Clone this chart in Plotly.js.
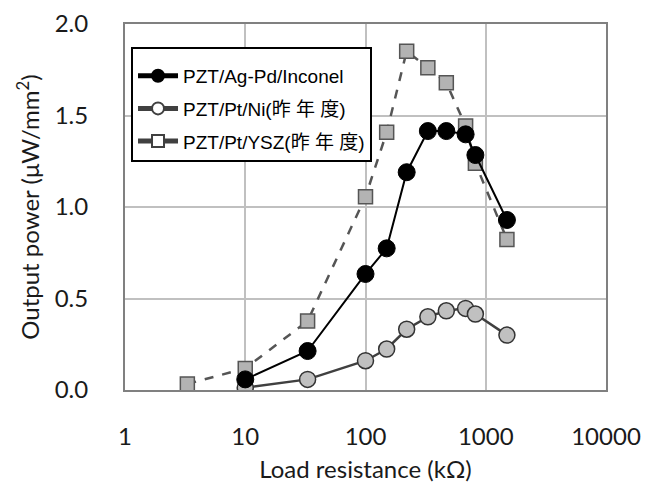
<!DOCTYPE html>
<html>
<head>
<meta charset="utf-8">
<script src="https://cdn.plot.ly/plotly-3.0.1.min.js"></script>
<style>html,body{margin:0;padding:0;background:#fff;}#chart{width:660px;height:486px;}</style>
</head>
<body>
<div id="chart"></div>
<script>
// Load resistance (kΩ)
const rAgPd = [10, 33, 100, 150, 220, 330, 470, 680, 820, 1500];
const pAgPd = [0.058, 0.213, 0.634, 0.774, 1.19, 1.415, 1.415, 1.397, 1.284, 0.929];

const rPtNi = [10, 33, 100, 150, 220, 330, 470, 680, 820, 1500];
const pPtNi = [0.013, 0.058, 0.16, 0.224, 0.332, 0.40, 0.433, 0.446, 0.415, 0.30];

const rYSZ = [3.3, 10, 33, 100, 150, 220, 330, 470, 680, 820, 1500];
const pYSZ = [0.033, 0.118, 0.377, 1.056, 1.408, 1.851, 1.761, 1.679, 1.443, 1.239, 0.823];

const names = ['PZT/Ag-Pd/Inconel', 'PZT/Pt/Ni(昨 年 度)', 'PZT/Pt/YSZ(昨 年 度)'];
const xTickVals = [1, 10, 100, 1000, 10000];
const xTickText = ['1', '10', '100', '1000', '10000'];

const axisFont = {family: 'Lato, "Noto Sans", sans-serif', size: 24, color: '#1a1a1a'};

const traces = [
  {x: rYSZ, y: pYSZ, name: names[2], mode: 'lines+markers', showlegend: false,
   line: {color: '#555555', width: 2.5, dash: 'dash'},
   marker: {symbol: 'square', size: 14, color: '#b3b3b3', line: {color: '#555555', width: 1.5}}},
  {x: rPtNi, y: pPtNi, name: names[1], mode: 'lines+markers', showlegend: false,
   line: {color: '#404040', width: 2.5},
   marker: {symbol: 'circle', size: 16, color: '#c0c0c0', line: {color: '#333333', width: 1.5}}},
  {x: rAgPd, y: pAgPd, name: names[0], mode: 'lines+markers', showlegend: false,
   line: {color: '#000000', width: 2},
   marker: {symbol: 'circle', size: 17, color: '#000000', line: {color: '#000000', width: 1}}},
  // legend entries
  {x: [null], y: [null], name: names[0], mode: 'lines+markers', legendgroup: 'a',
   line: {color: '#000000', width: 2},
   marker: {symbol: 'circle', size: 12, color: '#000000', line: {color: '#000000', width: 1}}},
  {x: [null], y: [null], name: names[1], mode: 'lines+markers', legendgroup: 'b',
   line: {color: '#404040', width: 2},
   marker: {symbol: 'circle', size: 12, color: '#ffffff', line: {color: '#404040', width: 1.5}}},
  {x: [null], y: [null], name: names[2], mode: 'lines+markers', legendgroup: 'c',
   line: {color: '#404040', width: 2},
   marker: {symbol: 'square', size: 12, color: '#ffffff', line: {color: '#404040', width: 1.5}}}
];

const layout = {
  width: 660, height: 486,
  margin: {l: 125, r: 54, t: 24, b: 96},
  paper_bgcolor: '#ffffff', plot_bgcolor: '#ffffff',
  showlegend: true,
  legend: {
    x: 0.0125, y: 0.937, xanchor: 'left', yanchor: 'top',
    bgcolor: '#ffffff', bordercolor: '#000000', borderwidth: 2,
    font: {family: '"Liberation Sans", Arial, "Noto Sans CJK JP", sans-serif', size: 19, color: '#000000'},
    title: {text: ' ', font: {size: 6}},
    traceorder: 'grouped', tracegroupgap: 5, itemsizing: 'constant', itemwidth: 40
  },
  xaxis: {
    type: 'log', range: [0, 4],
    tickmode: 'array', tickvals: xTickVals, ticktext: xTickText,
    ticks: '', ticklabelstandoff: 24,
    showgrid: true, gridcolor: '#c0c0c0', gridwidth: 2,
    showline: true, linecolor: '#808080', linewidth: 2, mirror: true,
    zeroline: false,
    tickfont: axisFont,
    title: {text: 'Load resistance (kΩ)', font: axisFont, standoff: 12}
  },
  yaxis: {
    range: [0, 2], dtick: 0.5, tick0: 0, tickformat: '.1f',
    ticks: '', ticklabelstandoff: 30,
    showgrid: true, gridcolor: '#c0c0c0', gridwidth: 2,
    showline: true, linecolor: '#808080', linewidth: 2, mirror: true,
    zeroline: false,
    tickfont: axisFont,
    title: {text: 'Output power (μW/mm<sup>2</sup>)', font: axisFont, standoff: 8}
  }
};

Plotly.newPlot('chart', traces, layout, {displayModeBar: false, staticPlot: true});
</script>
</body>
</html>
